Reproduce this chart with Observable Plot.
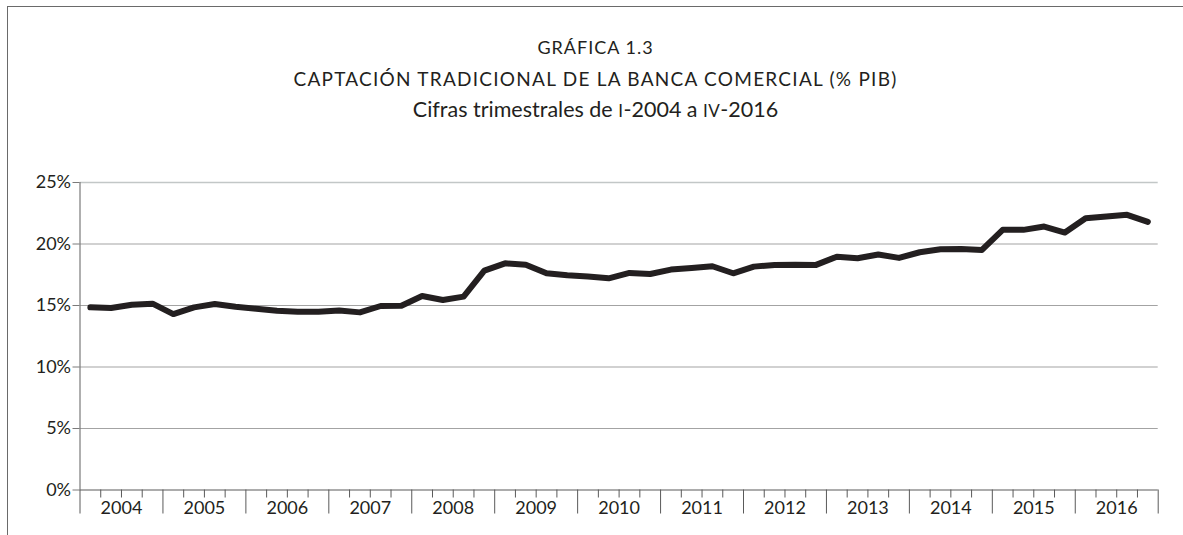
<!DOCTYPE html>
<html>
<head>
<meta charset="utf-8">
<script src="https://cdn.jsdelivr.net/npm/d3@7"></script>
<script src="https://cdn.jsdelivr.net/npm/@observablehq/plot@0.6"></script>
<style>
  html, body { margin: 0; padding: 0; background: #fff; }
  #page { position: relative; width: 1183px; height: 535px; overflow: hidden; font-family: Lato, "Open Sans", sans-serif; color: #231f20; }
  #frame { position: absolute; left: 7px; top: 6px; right: -2px; bottom: -2px; border-top: 1px solid #6a6a6a; border-left: 1px solid #6a6a6a; }
  .tl { position: absolute; left: 8px; width: 1175px; text-align: center; white-space: nowrap; line-height: 1; }
  #t1 { top: 38px; font-size: 18px; letter-spacing: 1px; }
  #t2 { top: 69px; font-size: 19px; letter-spacing: 1.25px; }
  #t3 { top: 99px; font-size: 21.5px; }
  .sc { font-size: 17px; letter-spacing: 0.5px; }
  #chart { position: absolute; left: 0; top: 140px; }
</style>
</head>
<body>
<div id="page">
  <div id="frame"></div>
  <div class="tl" id="t1"></div>
  <div class="tl" id="t2"></div>
  <div class="tl" id="t3"></div>
  <div id="chart"></div>
</div>
<script>
const titleLine1 = "GRÁFICA 1.3";
const titleLine2 = "CAPTACIÓN TRADICIONAL DE LA BANCA COMERCIAL (% PIB)";
const subtitleParts = ["Cifras trimestrales de ", "I", "-2004 a ", "IV", "-2016"];

const years = [2004, 2005, 2006, 2007, 2008, 2009, 2010, 2011, 2012, 2013, 2014, 2015, 2016];
const quarterLabels = ["I", "II", "III", "IV"];
const values = [
  14.85, 14.79, 15.06, 15.15,
  14.30, 14.85, 15.12, 14.90,
  14.74, 14.58, 14.50, 14.50,
  14.60, 14.44, 14.96, 14.98,
  15.77, 15.45, 15.72, 17.83,
  18.43, 18.32, 17.62, 17.46,
  17.35, 17.21, 17.65, 17.56,
  17.92, 18.05, 18.19, 17.62,
  18.16, 18.30, 18.32, 18.30,
  18.97, 18.84, 19.14, 18.87,
  19.33, 19.57, 19.60, 19.52,
  21.15, 21.15, 21.42, 20.93,
  22.10, 22.23, 22.37, 21.80
];
const yTicks = [0, 5, 10, 15, 20, 25];

document.getElementById("t1").textContent = titleLine1;
document.getElementById("t2").textContent = titleLine2;
document.getElementById("t3").innerHTML = subtitleParts.map((p, i) => (i === 1 || i === 3) ? `<span class="sc">${p}</span>` : p).join("");

const data = values.map((v, i) => ({t: i + 0.5, v, year: years[Math.floor(i / 4)], q: quarterLabels[i % 4]}));
const nQ = years.length * 4;
const quarterTicks = d3.range(0, nQ + 1).filter(k => k % 4 !== 0);
const yearTicks = d3.range(0, nQ + 1, 4);
const yearCenters = years.map((y, i) => i * 4 + 2);

const ink = "#231f20";
const chart = Plot.plot({
  width: 1183,
  height: 395,
  marginTop: 42,
  marginBottom: 45.5,
  marginLeft: 79.5,
  marginRight: 25.3,
  x: {domain: [0, nQ]},
  y: {domain: [0, 25]},
  style: {fontFamily: "Lato, 'Open Sans', sans-serif", fontSize: "18px", color: ink, background: "transparent", overflow: "visible"},
  marks: [
    Plot.ruleY(yTicks.filter(d => d > 0 && d < 25), {stroke: "#a3a3a3", strokeWidth: 1.2}),
    Plot.ruleY([25], {stroke: "#c2c7c7", strokeWidth: 1.4}),
    Plot.ruleX([0], {stroke: "#7a7a7a", strokeWidth: 1.2}),
    Plot.ruleY([0], {stroke: "#5a5a5a", strokeWidth: 1.2}),
    Plot.axisY(yTicks, {tickSize: 7, tickPadding: 2, tickFormat: d => d + "%", stroke: "#7a7a7a", fill: ink, fontSize: 18, label: null}),
    Plot.axisX(quarterTicks, {tickSize: 8, tickFormat: () => "", stroke: "#5a5a5a", label: null}),
    Plot.axisX(yearTicks, {tickSize: 24, tickFormat: () => "", stroke: "#5a5a5a", label: null}),
    Plot.axisX(yearCenters, {tickSize: 0, tickPadding: 11, tickFormat: d => String(years[(d - 2) / 4]), fill: ink, fontSize: 18, label: null}),
    Plot.line(data, {x: "t", y: "v", stroke: ink, strokeWidth: 6, strokeLinejoin: "round", strokeLinecap: "round"})
  ]
});
document.getElementById("chart").appendChild(chart);
</script>
</body>
</html>
